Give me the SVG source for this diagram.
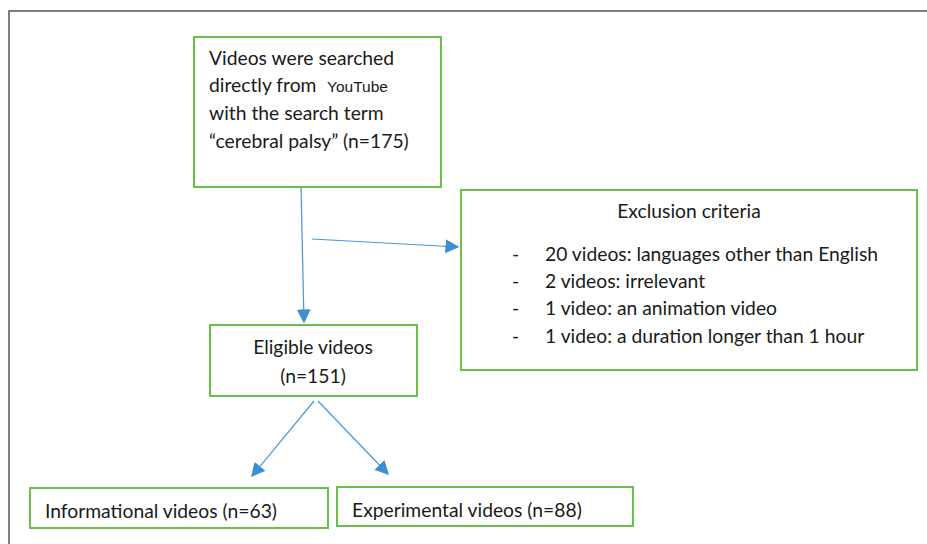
<svg xmlns="http://www.w3.org/2000/svg" width="927" height="544" viewBox="0 0 927 544">
<style>
.box{fill:#fff;stroke:#6abf4b;stroke-width:2}
.t{font-family:Lato,"Liberation Sans",sans-serif;font-size:19.3px;fill:#1a1a1a}
.c{text-anchor:middle}
.conn{stroke:#4a95d6;stroke-width:1.2;fill:none}
</style>
<defs>
<marker id="ah" viewBox="0 0 10 10" refX="9" refY="5" markerWidth="14" markerHeight="14" markerUnits="userSpaceOnUse" orient="auto">
<path d="M0,0 L10,5 L0,10 z" fill="#3d8fd4"/>
</marker>
</defs>
<rect width="927" height="544" fill="#fff"/>
<path d="M9,544 V11 H927" stroke="#555" stroke-width="1.5" fill="none"/>
<g id="connectors">
<path class="conn" d="M301,187 L304,322" marker-end="url(#ah)"/>
<path class="conn" d="M312,239 L458,247" marker-end="url(#ah)"/>
<path class="conn" d="M314,401 L252,476" marker-end="url(#ah)"/>
<path class="conn" d="M318,401 L388,474" marker-end="url(#ah)"/>
</g>
<g id="search">
<rect class="box" x="194" y="37" width="247" height="150"/>
<text class="t" x="209" y="65">Videos were searched</text>
<text class="t" x="209" y="92">directly from <tspan x="327" font-family="'Liberation Sans',sans-serif" font-size="15.5px">YouTube</tspan></text>
<text class="t" x="209" y="120">with the search term</text>
<text class="t" x="209" y="148">“cerebral palsy” (n=175)</text>
</g>
<g id="exclusion">
<rect class="box" x="461" y="190" width="456" height="180"/>
<text class="t c" x="689" y="218">Exclusion criteria</text>
<text class="t" x="512" y="261">-</text>
<text class="t" x="545" y="261">20 videos: languages other than English</text>
<text class="t" x="512" y="288">-</text>
<text class="t" x="545" y="288">2 videos: irrelevant</text>
<text class="t" x="512" y="315">-</text>
<text class="t" x="545" y="315">1 video: an animation video</text>
<text class="t" x="512" y="343">-</text>
<text class="t" x="545" y="343">1 video: a duration longer than 1 hour</text>
</g>
<g id="eligible">
<rect class="box" x="210" y="325" width="207" height="71"/>
<text class="t c" x="313" y="354">Eligible videos</text>
<text class="t c" x="313" y="383">(n=151)</text>
</g>
<g id="informational">
<rect class="box" x="30" y="488" width="298" height="40"/>
<text class="t" x="45" y="518">Informational videos (n=63)</text>
</g>
<g id="experimental">
<rect class="box" x="337" y="487" width="296" height="39"/>
<text class="t" x="352" y="517">Experimental videos (n=88)</text>
</g>
</svg>
